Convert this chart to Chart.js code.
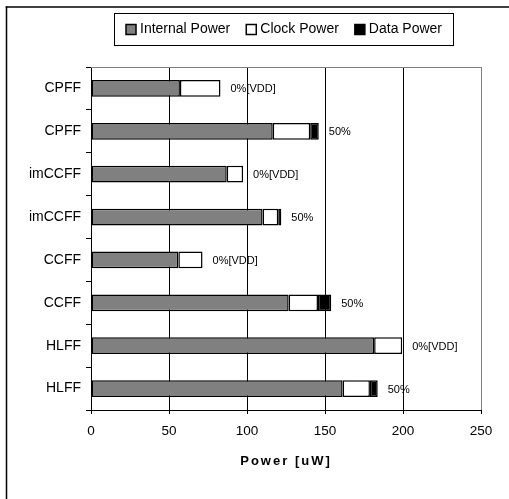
<!DOCTYPE html>
<html>
<head>
<meta charset="utf-8">
<script src="https://cdn.jsdelivr.net/npm/chart.js@4.4.0/dist/chart.umd.min.js"></script>
<style>
  html, body { margin: 0; padding: 0; background: #fff; overflow: hidden; }
  #wrap { width: 509px; height: 499px; }
  canvas { display: block; }
</style>
</head>
<body>
<div id="wrap"><canvas id="power_chart"></canvas></div>
<script>
// values (uW)
const categories = ['CPFF', 'CPFF', 'imCCFF', 'imCCFF', 'CCFF', 'CCFF', 'HLFF', 'HLFF'];
const internalPower = [57, 116.5, 87, 110, 56, 126.7, 181.5, 161.3];
const clockPower = [26, 24, 10.5, 10, 15.5, 18.8, 18, 17.5];
const dataPower = [0, 5.5, 0, 2, 0, 8.5, 0, 5];
const barLabels = ['0%[VDD]', '50%', '0%[VDD]', '50%', '0%[VDD]', '50%', '0%[VDD]', '50%'];
const xTicks = [0, 50, 100, 150, 200, 250];

const FONT = "'Liberation Sans', Arial, sans-serif";

const framePlugin = {
    id: 'frame',
    beforeDraw(chart) {
        const ctx = chart.ctx;
        ctx.save();
        ctx.strokeStyle = '#000';
        ctx.lineWidth = 1.5;
        ctx.beginPath();
        ctx.moveTo(6.5, 499);
        ctx.lineTo(6.5, 6.25);
        ctx.stroke();
        ctx.beginPath();
        ctx.moveTo(5.75, 7);
        ctx.lineTo(509, 7);
        ctx.stroke();
        ctx.restore();
    },
    afterDatasetsDraw(chart) {
        // "0%[VDD]" / "50%" labels right of each bar
        const ctx = chart.ctx;
        const xs = chart.scales.x, ys = chart.scales.y;
        ctx.save();
        ctx.font = '11px ' + FONT;
        ctx.fillStyle = '#000';
        ctx.textBaseline = 'middle';
        ctx.textAlign = 'left';
        for (let i = 0; i < categories.length; i++) {
            const total = internalPower[i] + clockPower[i] + dataPower[i];
            ctx.fillText(barLabels[i], xs.getPixelForValue(total) + 10, ys.getPixelForValue(i) + 1);
        }
        ctx.restore();
    },
    afterDraw(chart) {
        const ctx = chart.ctx;
        const a = chart.chartArea;
        ctx.save();
        // plot area top border (gray)
        ctx.strokeStyle = '#808080';
        ctx.lineWidth = 1;
        ctx.beginPath();
        ctx.moveTo(a.left, a.top + 0.5);
        ctx.lineTo(a.right, a.top + 0.5);
        ctx.stroke();

        // axis title
        ctx.fillStyle = '#000';
        ctx.font = 'bold 13px ' + FONT;
        ctx.letterSpacing = '2px';
        ctx.textAlign = 'center';
        ctx.textBaseline = 'middle';
        ctx.fillText('Power [uW]', (a.left + a.right) / 2, 461);
        ctx.letterSpacing = '0px';

        // legend
        const box = { x: 114.5, y: 13.5, w: 339, h: 32 };
        ctx.strokeStyle = '#000';
        ctx.lineWidth = 1;
        ctx.strokeRect(box.x, box.y, box.w, box.h);
        ctx.font = '14px ' + FONT;
        ctx.textAlign = 'left';
        const items = chart.data.datasets.map(d => ({ text: d.label, color: d.backgroundColor }));
        const sq = 10, gap = 4, itemGap = 16;
        let total = 0;
        items.forEach((it, i) => {
            it.w = ctx.measureText(it.text).width;
            total += sq + gap + it.w + (i < items.length - 1 ? itemGap : 0);
        });
        let x = box.x + (box.w - total) / 2;
        const cy = box.y + box.h / 2;
        items.forEach(it => {
            ctx.fillStyle = it.color;
            ctx.fillRect(x, cy - sq / 2, sq, sq);
            ctx.strokeStyle = '#000';
            ctx.lineWidth = 1.5;
            ctx.strokeRect(x, cy - sq / 2, sq, sq);
            ctx.fillStyle = '#000';
            ctx.fillText(it.text, x + sq + gap, cy);
            x += sq + gap + it.w + itemGap;
        });
        ctx.restore();
    }
};

const ctx = document.getElementById('power_chart').getContext('2d');
const power_chart = new Chart(ctx, {
    type: 'bar',
    data: {
        labels: categories,
        datasets: [
            {
                label: 'Internal Power',
                data: internalPower,
                backgroundColor: '#808080',
            },
            {
                label: 'Clock Power',
                data: clockPower,
                backgroundColor: '#ffffff',
            },
            {
                label: 'Data Power',
                data: dataPower,
                backgroundColor: '#000000',
            }
        ]
    },
    options: {
        indexAxis: 'y',
        responsive: true,
        maintainAspectRatio: false,
        animation: false,
        datasets: {
            bar: {
                borderColor: '#000',
                borderWidth: 1.5,
                borderSkipped: false,
                categoryPercentage: 1,
                barPercentage: 0.39
            }
        },
        layout: {
            padding: { left: 0, right: 28, top: 67, bottom: 29 }
        },
        plugins: {
            legend: { display: false },
            tooltip: { enabled: false }
        },
        scales: {
            x: {
                stacked: true,
                min: 0,
                max: 250,
                afterBuildTicks: (scale) => {
                    scale.ticks = xTicks.map(v => ({ value: v }));
                },
                afterFit: (scale) => { scale.height = 60; },
                ticks: {
                    color: '#000',
                    font: { family: FONT, size: 13.5 },
                    padding: 9
                },
                grid: {
                    color: (c) => c.tick && c.tick.value === 250 ? '#808080' : '#000',
                    tickColor: '#000',
                    tickLength: 4,
                    lineWidth: 1
                },
                border: { display: true, color: '#000', width: 1 }
            },
            y: {
                stacked: true,
                afterFit: (scale) => { scale.width = 91; },
                ticks: {
                    color: '#000',
                    font: { family: FONT, size: 14 },
                    padding: 5
                },
                grid: {
                    drawOnChartArea: false,
                    offset: true,
                    color: '#000',
                    tickLength: 5
                },
                border: { display: true, color: '#000', width: 1 }
            }
        }
    },
    plugins: [framePlugin]
});
</script>
</body>
</html>
